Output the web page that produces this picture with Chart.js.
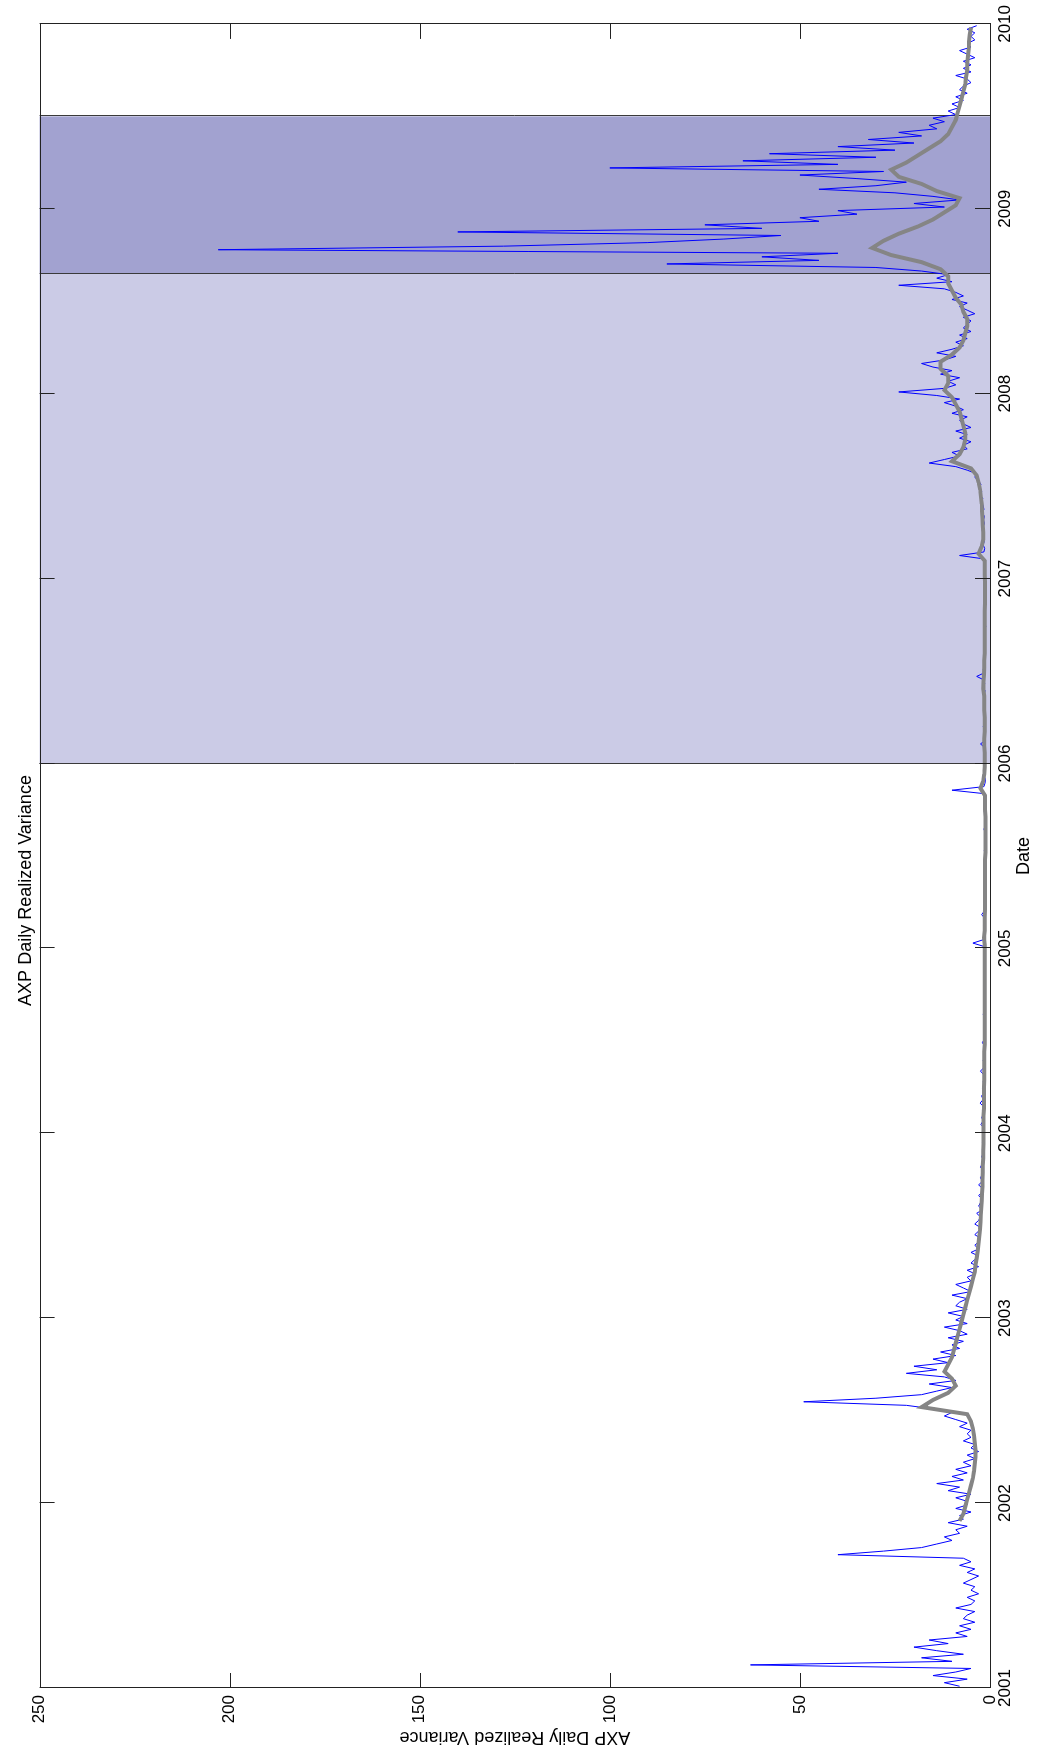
<!DOCTYPE html>
<html><head><meta charset="utf-8">
<script src="https://cdn.jsdelivr.net/npm/chart.js@4.4.1/dist/chart.umd.min.js"></script>
<style>
html,body{margin:0;padding:0;background:#fff;overflow:hidden;width:1038px;height:1759px;}
#wrap{position:absolute;left:0;top:0;width:1759px;height:1038px;transform-origin:0 0;transform:translate(0,1759px) rotate(-90deg);}
canvas{display:block;}
</style></head><body>
<div id="wrap"><canvas id="c" width="1759" height="1038"></canvas></div>
<script>
// ---- data (weekly samples of daily realized variance) ----
const years = [2001,2002,2003,2004,2005,2006,2007,2008,2009];
const blue2001 = [8,12,6,15, 9,5,63,10, 18,7,14,20, 11,16,6,9, 5,8,4,7, 6,4,9,5, 4,6,3,5, 4,7,5,3, 6,4,8,5, 7,40,28,18, 14,10,12,8, 9,6,11,7, 8,5,9,6];
const blue2002 = [6,9,5,11, 8,14,7,10, 6,9,5,7, 4,6,3,5, 4,7,5,6, 5,8,6,9, 12,10,15,22, 49,30,18,14, 10,16,9,12, 22,14,20,11, 15,9,13,8, 10,7,11,6, 8,12,6,9];
const blue2003 = [7,11,6,9, 8,6,10,5, 7,9,5,6, 4,6,3,5, 4,3,5,3, 4,3,2.5,4, 3,2.5,4,3, 2.5,3.5,2,3, 2.5,2,3,2, 2,3,2,2.5, 2,1.8,2.5,2, 1.8,2.2,1.6,2, 1.5,2,1.6,1.8];
const blue2004 = [2,1.6,2.4,1.8, 2.2,1.5,2,1.7, 2.6,1.8,2.2,1.6, 2,1.5,1.8,1.4, 1.7,2.5,1.6,1.4, 1.8,1.5,1.3,1.7, 1.4,2,1.5,1.3, 1.6,1.4,1.2,1.5, 1.3,1.8,1.4,1.2, 1.5,1.3,1.6,1.2, 1.4,1.7,1.3,1.5, 1.2,1.6,1.4,1.3, 1.5,1.2,1.4,1.3];
const blue2005 = [1.4,4.5,1.6,1.3, 1.5,1.2,1.7,1.3, 1.4,2.2,1.5,1.3, 1.6,1.4,1.2,1.5, 1.3,1.1,1.4,1.2, 1.6,1.3,1.1,1.4, 1.2,1.3,1.1,1.5, 1.2,1.4,1.1,1.3, 1.2,1.6,1.3,1.1, 1.4,1.2,1.5,1.3, 1.2,1.4,1.1,1.3, 10,1.6,1.3,1.2, 1.5,1.2,1.4,1.3];
const blue2006 = [1.3,1.6,1.2,1.5, 1.4,2.5,1.3,1.2, 1.5,1.3,1.8,1.2, 1.4,1.2,1.5,1.3, 1.6,1.4,1.2,1.5, 1.3,2,1.4,1.6, 3.5,1.5,1.8,1.4, 1.6,1.3,1.5,1.2, 1.4,1.2,1.3,1.5, 1.2,1.4,1.1,1.3, 1.5,1.2,1.4,1.3, 1.2,1.5,1.3,1.1, 1.4,1.2,1.3,1.5];
const blue2007 = [1.3,1.6,1.4,1.2, 1.5,1.3,8,1.6, 1.4,1.8,1.5,1.7, 1.6,2,1.8,1.5, 1.7,1.5,1.9,1.6, 1.8,2.2,1.9,2.5, 2.2,2.8,2.4,3, 4,3.5,6,9, 16,12,8,10, 6,7,5,8, 6,9,5,7, 8,6,10,7, 9,12,8,14];
const blue2008 = [24,12,9,11, 8,13,10,15, 18,12,9,14, 10,7,9,6, 8,5,7,6, 5,7,4,6, 8,6,10,7, 9,12,24,10, 14,11,18,30, 85,45,60,40, 203,128,90,70, 55,140,60,75, 45,50,35,40];
const blue2009 = [12,20,8,15, 25,45,30,22, 35,50,28,100, 40,65,30,58, 25,40,20,32, 18,24,14,16, 12,15,9,11, 8,10,7,9, 6,8,7,5, 6,9,5,7, 5,7,4,6, 8,5,6,4, 5,4,6,3.5];

// ---- smoothed series (bi-weekly samples) ----
const gray2001 = [null,null,null,null,null,null,null,null,null,null,null,null,null,null,null,null,null,null,null,null,null,null,null,8,7,6.5];
const gray2002 = [6,5.5,5,4.5, 4.2,4,3.8,3.8, 4,4.2,4.5,5, 6,18,15,11, 9,10,12,11, 10,9.5,9,8.5, 8,7.5];
const gray2003 = [7,6.5,6,5.5, 5,4.5,4,3.8, 3.5,3.2,3,2.8, 2.6,2.5,2.4,2.3, 2.2,2.1,2,2, 1.9,1.9,1.8,1.8, 1.7,1.7];
const gray2004 = [1.7,1.7,1.7,1.6, 1.6,1.6,1.6,1.5, 1.5,1.5,1.5,1.5, 1.4,1.4,1.4,1.4, 1.4,1.4,1.4,1.4, 1.4,1.4,1.4,1.4, 1.4,1.4];
const gray2005 = [1.4,1.6,1.4,1.4, 1.4,1.3,1.3,1.3, 1.3,1.3,1.3,1.3, 1.3,1.2,1.2,1.2, 1.2,1.2,1.2,1.3, 1.3,1.3,2.5,1.8, 1.5,1.4];
const gray2006 = [1.4,1.4,1.5,1.5, 1.4,1.4,1.4,1.5, 1.5,1.5,1.8,1.7, 1.6,1.5,1.5,1.4, 1.4,1.4,1.4,1.4, 1.4,1.4,1.3,1.3, 1.3,1.3];
const gray2007 = [1.4,1.4,1.4,3, 2.2,1.8,1.8,1.9, 2,2.1,2.2,2.4, 2.6,3,3.5,5, 10,8,7,6.5, 6.5,7,7.5,8, 9,10];
const gray2008 = [12,11,11,13, 13,10,8,7, 6.5,6,6,7, 7.5,9,10,11, 11,13,18,26, 31,28,24,19, 15,12];
const gray2009 = [9,8,14,18, 24,26,22,19, 16,13,11,10, 9,8.5,8,7.5, 7,6.5,6.3,6, 6,5.8,5.6,5.5, 5.3,5];

// ---- shaded periods ----
const shadeStart = [2006.0, 2008.65];
const shadeEnd = [2008.65, 2009.5];
const shadeColor = ['#cbcbe6', '#a2a2d0'];

const valueTicks = [0, 50, 100, 150, 200, 250];
const yearTicks = [2001,2002,2003,2004,2005,2006,2007,2008,2009,2010];

function toPoints(list) {
  const pts = [];
  list.forEach((arr, k) => arr.forEach((v, i) => pts.push({x: years[k] + (i + 0.5) / arr.length, y: v})));
  return pts;
}
const bluePts = toPoints([blue2001,blue2002,blue2003,blue2004,blue2005,blue2006,blue2007,blue2008,blue2009]);
const grayPts = toPoints([gray2001,gray2002,gray2003,gray2004,gray2005,gray2006,gray2007,gray2008,gray2009]);

const FONT = "'Liberation Sans', Arial, Helvetica, sans-serif";

const shadePlugin = {
  id: 'shade',
  beforeDatasetsDraw(chart) {
    const {ctx, chartArea: a, scales: {x}} = chart;
    ctx.save();
    shadeStart.forEach((s, i) => {
      const x0 = x.getPixelForValue(s), x1 = x.getPixelForValue(shadeEnd[i]);
      ctx.fillStyle = shadeColor[i];
      ctx.fillRect(x0, a.top, x1 - x0, a.bottom - a.top);
    });
    ctx.strokeStyle = '#3a3a3a';
    ctx.lineWidth = 1;
    const edges = [...new Set([...shadeStart, ...shadeEnd])];
    edges.forEach(e => {
      const px = Math.round(x.getPixelForValue(e)) + 0.5;
      ctx.beginPath(); ctx.moveTo(px, a.top); ctx.lineTo(px, a.bottom); ctx.stroke();
    });
    ctx.restore();
  }
};

const framePlugin = {
  id: 'frame',
  afterDatasetsDraw(chart) {
    const {ctx, chartArea: a, scales: {x, y}} = chart;
    const L = 15;
    ctx.save();
    ctx.strokeStyle = '#222';
    ctx.lineWidth = 1;
    ctx.strokeRect(Math.round(a.left) + 0.5, Math.round(a.top) + 0.5, Math.round(a.right - a.left), Math.round(a.bottom - a.top));
    ctx.beginPath();
    yearTicks.forEach(t => {
      const px = Math.round(x.getPixelForValue(t)) + 0.5;
      ctx.moveTo(px, a.bottom); ctx.lineTo(px, a.bottom - L);
      ctx.moveTo(px, a.top); ctx.lineTo(px, a.top + L);
    });
    valueTicks.forEach(t => {
      const py = Math.round(y.getPixelForValue(t)) + 0.5;
      ctx.moveTo(a.left, py); ctx.lineTo(a.left + L, py);
      ctx.moveTo(a.right, py); ctx.lineTo(a.right - L, py);
    });
    ctx.stroke();
    ctx.restore();
  }
};

new Chart(document.getElementById('c'), {
  type: 'scatter',
  data: {
    datasets: [
      {label: 'Smoothed', data: grayPts, showLine: true, borderColor: '#858585', borderWidth: 4, pointRadius: 0, spanGaps: false, order: 0, tension: 0},
      {label: 'Daily RV', data: bluePts, showLine: true, borderColor: '#0000ff', borderWidth: 1, pointRadius: 0, order: 1, tension: 0}
    ]
  },
  options: {
    responsive: false,
    animation: false,
    devicePixelRatio: 1,
    layout: {padding: {left: 0, right: 22, top: 0, bottom: 0}},
    plugins: {
      legend: {display: false},
      tooltip: {enabled: false},
      title: {display: true, text: 'AXP Daily Realized Variance', color: '#000',
        font: {family: FONT, size: 18, weight: 'normal'}, padding: {top: 15, bottom: 3}}
    },
    scales: {
      x: {
        type: 'linear', min: 2001, max: 2010, position: 'bottom',
        afterBuildTicks(s) { s.ticks = yearTicks.map(v => ({value: v})); },
        afterFit(s) { s.height = 48; },
        grid: {display: false, drawTicks: false},
        border: {display: false},
        ticks: {color: '#000', font: {family: FONT, size: 17}, padding: 5, autoSkip: false, maxRotation: 0, callback: v => String(v)},
        title: {display: true, text: 'Date', color: '#000', font: {family: FONT, size: 18}, padding: {top: 0, bottom: 3}}
      },
      y: {
        type: 'linear', min: 0, max: 250,
        afterBuildTicks(s) { s.ticks = valueTicks.map(v => ({value: v})); },
        afterFit(s) { s.width = 71; },
        grid: {display: false, drawTicks: false},
        border: {display: false},
        ticks: {color: '#000', font: {family: FONT, size: 17}, padding: 7, callback: v => String(v)},
        title: {display: true, text: 'AXP Daily Realized Variance', color: '#000', font: {family: FONT, size: 18}, padding: {top: 11, bottom: 0}}
      }
    }
  },
  plugins: [shadePlugin, framePlugin]
});
</script>
</body></html>
